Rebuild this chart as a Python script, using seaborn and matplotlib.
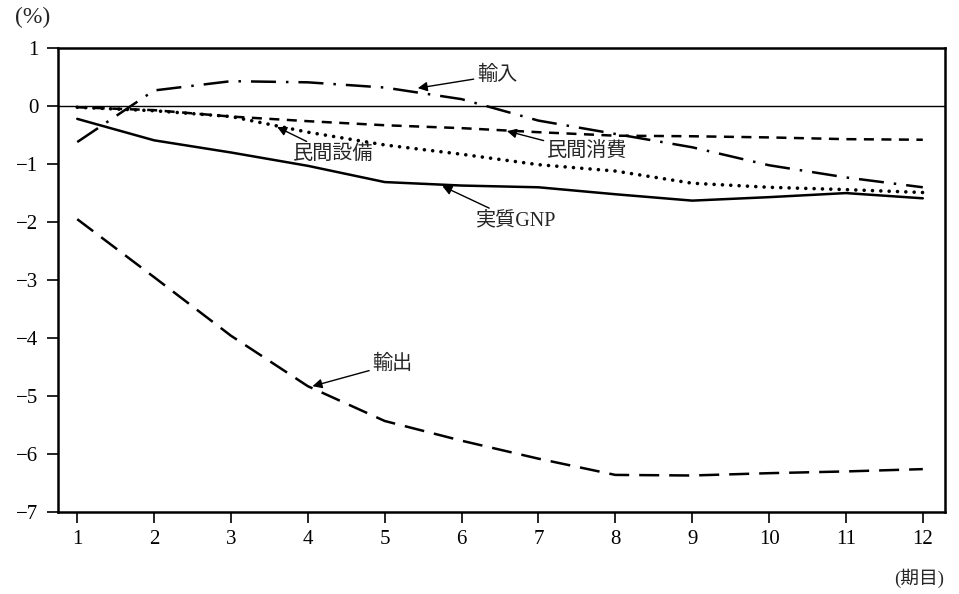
import matplotlib
matplotlib.use("Agg")
import matplotlib.pyplot as plt
import seaborn as sns
import pandas as pd

periods = [1, 2, 3, 4, 5, 6, 7, 8, 9, 10, 11, 12]
gnp = [-0.22, -0.59, -0.80, -1.03, -1.31, -1.37, -1.40, -1.52, -1.63, -1.57, -1.50, -1.59]
consumption = [-0.02, -0.07, -0.18, -0.26, -0.33, -0.38, -0.45, -0.51, -0.52, -0.54, -0.57, -0.58]
investment = [-0.02, -0.08, -0.18, -0.45, -0.67, -0.83, -1.01, -1.12, -1.33, -1.40, -1.44, -1.49]
imports = [-0.62, 0.27, 0.43, 0.41, 0.32, 0.12, -0.25, -0.48, -0.71, -1.02, -1.23, -1.40]
exports = [-1.95, -2.95, -3.96, -4.83, -5.43, -5.77, -6.08, -6.36, -6.37, -6.33, -6.30, -6.26]

yticks = [1, 0, -1, -2, -3, -4, -5, -6, -7]
ytick_labels = ["1", "0", "−1", "−2", "−3", "−4", "−5", "−6", "−7"]

sns.set_style("ticks")
plt.rcParams['font.family'] = ['Liberation Serif', 'Noto Sans CJK JP', 'DejaVu Sans']

fig = plt.figure(figsize=(9.59, 5.94), dpi=100)
ax = fig.add_axes([0.0605, 0.138, 0.925, 0.781])

lw = 1.8
series = [
    (gnp, dict(linestyle='-', linewidth=lw)),
    (consumption, dict(dashes=(4, 3), linewidth=lw)),
    (investment, dict(dashes=(0.01, 2.3), dash_capstyle='round', linewidth=2.6)),
    (imports, dict(dashes=(10, 4, 1, 4), linewidth=lw)),
    (exports, dict(dashes=(8, 4), linewidth=lw)),
]
for vals, style in series:
    df = pd.DataFrame({"period": periods, "value": vals})
    sns.lineplot(data=df, x="period", y="value", ax=ax, color="black", **style)

ax.axhline(0, color="black", linewidth=1.0)

ax.set_xlim(0.75, 12.29)
ax.set_ylim(-7, 1)
ax.set_xticks(periods)
ax.set_xticklabels([str(p) for p in periods], fontsize=15)
ax.set_yticks(yticks)
ax.set_yticklabels(ytick_labels, fontsize=15)
ax.set_xlabel("")
ax.set_ylabel("")
for s in ax.spines.values():
    s.set_linewidth(1.8)
    s.set_color("black")
    s.set_visible(True)
ax.tick_params(direction='out', length=8, width=1.2, colors='black')
ax.tick_params(axis='x', pad=5)
ax.tick_params(axis='y', pad=6)

arrow = dict(arrowstyle='-|>', color='black', lw=1.0, mutation_scale=14,
             shrinkA=0, shrinkB=0)
ann = [
    ("輸入", (5.43, 0.31), (6.20, 0.53)),
    ("民間設備", (3.60, -0.36), (3.80, -0.83)),
    ("民間消費", (6.59, -0.43), (7.11, -0.79)),
    ("実質GNP", (5.75, -1.38), (6.19, -1.98)),
    ("輸出", (4.06, -4.83), (4.84, -4.45)),
]
fam = ['Liberation Serif', 'Noto Sans CJK JP', 'DejaVu Sans']
for text, xy, xytext in ann:
    ax.annotate(text, xy=xy, xytext=xytext, fontsize=14.5, family=fam,
                ha='left', va='center', arrowprops=arrow)

fig.text(0.016, 0.970, "(%)", fontsize=17, ha='left', va='center')
fig.text(0.958, 0.027, "(期目)", fontsize=13.5, ha='center', va='center', family=fam)

fig.savefig("out.png", dpi=100)
